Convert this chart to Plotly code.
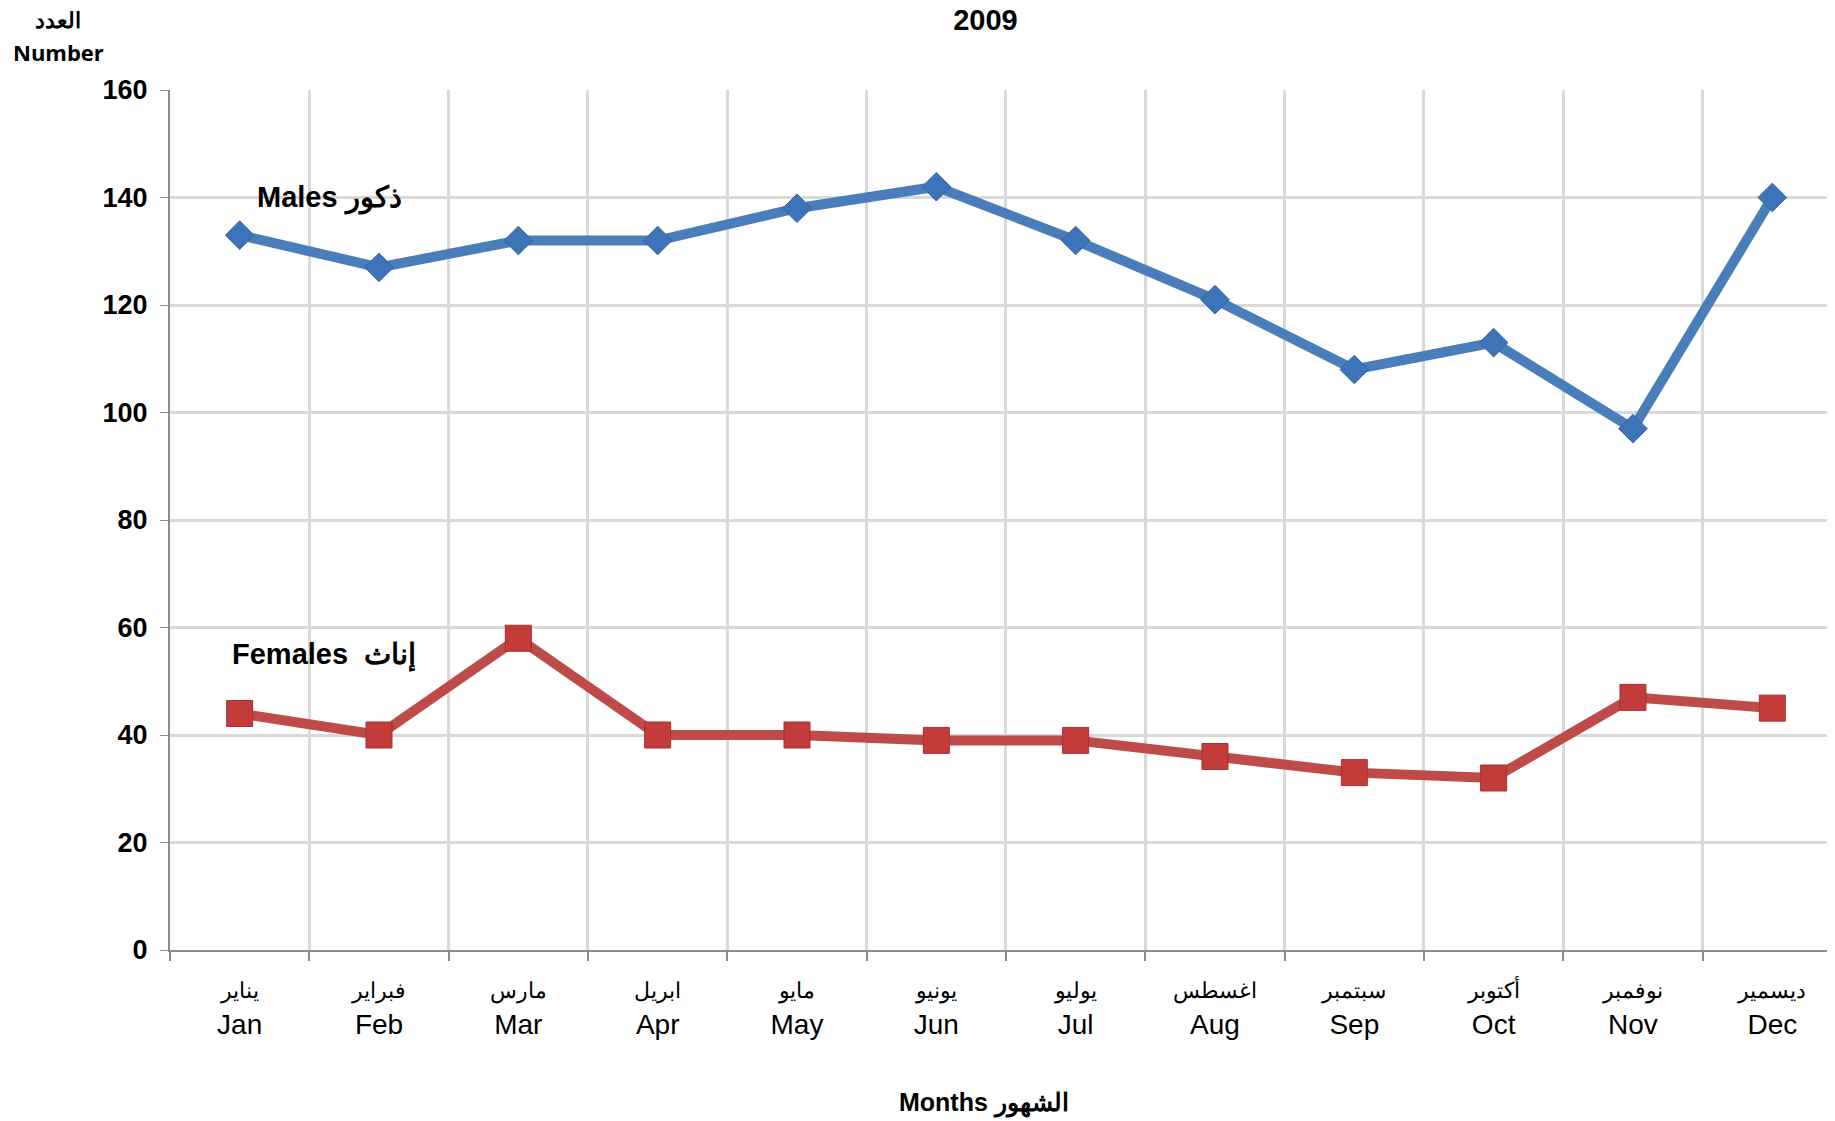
import plotly.graph_objects as go

MONTHS_EN = ["Jan", "Feb", "Mar", "Apr", "May", "Jun", "Jul", "Aug", "Sep", "Oct", "Nov", "Dec"]
MONTHS_AR = ["يناير", "فبراير", "مارس", "ابريل", "مايو", "يونيو",
             "يوليو", "اغسطس", "سبتمبر", "أكتوبر", "نوفمبر", "ديسمير"]
MALES = [133, 127, 132, 132, 138, 142, 132, 121, 108, 113, 97, 140]
FEMALES = [44, 40, 58, 40, 40, 39, 39, 36, 33, 32, 47, 45]
Y_TICKS = [0, 20, 40, 60, 80, 100, 120, 140, 160]

FONT = "Liberation Sans, Arial, sans-serif"
BLUE = "#4a7ebb"
RED = "#be4b48"
GRID = "#d9d9d9"
AXIS = "#8c8c8c"

x_pos = list(range(len(MONTHS_EN)))
tick_text = [
    f"<span style='font-size:22px'>{ar}</span><br>{en}"
    for ar, en in zip(MONTHS_AR, MONTHS_EN)
]
boundaries = [i - 0.5 for i in range(len(MONTHS_EN) + 1)]

fig = go.Figure()
fig.add_trace(go.Scatter(
    x=x_pos, y=MALES, mode="lines+markers", name="Males",
    line={"color": BLUE, "width": 10},
    marker={"symbol": "diamond", "size": 22, "color": "#3d73b9",
            "line": {"color": "#35649f", "width": 1}},
))
fig.add_trace(go.Scatter(
    x=x_pos, y=FEMALES, mode="lines+markers", name="Females",
    line={"color": RED, "width": 10},
    marker={"symbol": "square", "size": 26, "color": "#c43c39",
            "line": {"color": "#a33230", "width": 1}},
))

centered = {"xanchor": "center", "yanchor": "middle", "showarrow": False}
annotations = [
    {"text": "<b>العدد</b>", "xref": "paper", "yref": "paper", "x": -0.067, "y": 1.081,
     "font": {"size": 22}, **centered},
    {"text": "<b>Number</b>", "xref": "paper", "yref": "paper", "x": -0.067, "y": 1.044,
     "font": {"size": 22, "family": "Open Sans, sans-serif"}, **centered},
    {"text": "<b>Males ذكور</b>", "x": 0.11, "y": 139.9, "xanchor": "left",
     "showarrow": False, "font": {"size": 29}},
    {"text": "<b>Females  إناث</b>", "x": -0.066, "y": 54.9, "xanchor": "left",
     "showarrow": False, "font": {"size": 29}},
    {"text": "<b>Months الشهور</b>", "xref": "paper", "yref": "paper", "x": 0.489, "y": -0.178,
     "font": {"size": 25}, **centered},
]

# the page body adds an 8px margin, so the figure is a little smaller than the window
fig.update_layout(
    width=1827, height=1113,
    paper_bgcolor="white", plot_bgcolor="white",
    font={"family": FONT, "color": "black"},
    showlegend=False,
    margin={"l": 162, "r": 0, "t": 82, "b": 171, "autoexpand": False},
    title={"text": "<b>2009</b>", "x": 0.535, "y": 0.989, "xanchor": "center",
           "yanchor": "middle", "font": {"size": 29}},
    annotations=annotations,
)
fig.update_xaxes(
    range=[-0.5, 11.45], tickmode="array", tickvals=x_pos, ticktext=tick_text,
    tickfont={"size": 28, "family": "Liberation Sans Narrow, Arial Narrow, " + FONT},
    ticklabelstandoff=12,
    showgrid=False, zeroline=False, ticks="",
    showline=True, linecolor=AXIS, linewidth=2,
    minor={"tickmode": "array", "tickvals": boundaries, "showgrid": True,
           "gridcolor": GRID, "gridwidth": 3, "ticks": "outside", "ticklen": 9,
           "tickcolor": AXIS, "tickwidth": 1.5},
)
fig.update_yaxes(
    range=[0, 160], tickmode="array", tickvals=Y_TICKS,
    tickfont={"size": 27, "weight": "bold"}, ticklabelstandoff=7,
    showgrid=True, gridcolor=GRID, gridwidth=3, zeroline=False,
    showline=True, linecolor=AXIS, linewidth=2,
    ticks="outside", ticklen=8, tickcolor=AXIS,
)

fig.write_html("out.html")
